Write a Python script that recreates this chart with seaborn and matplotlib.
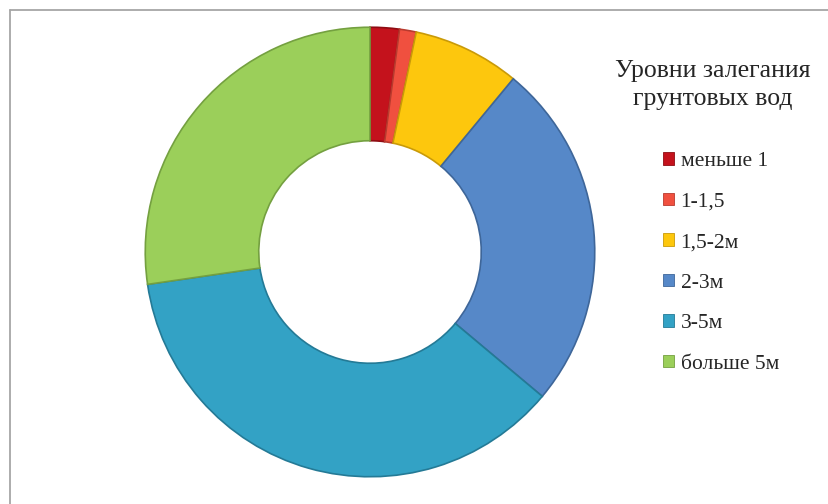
import matplotlib
matplotlib.use("Agg")
import matplotlib.pyplot as plt
from matplotlib.lines import Line2D
from matplotlib.patches import Patch
import seaborn as sns

# Groundwater depth classes and their shares (%)
categories = ["меньше 1", "1-1,5", "1,5-2м", "2-3м", "3-5м", "больше 5м"]
shares = [2.1, 1.2, 7.7, 25.1, 36.6, 27.3]
colors = ["#C4121C", "#F0503F", "#FDC70D", "#5688C8", "#33A2C5", "#9BCF5A"]
edges = ["#8E0C12", "#B83A2E", "#C99A08", "#3E6699", "#247A96", "#74A040"]
title = "Уровни залегания\nгрунтовых вод"

sns.set_theme(style="white")
plt.rcParams["font.family"] = ["Liberation Serif", "DejaVu Serif"]

W, H = 829, 504
fig = plt.figure(figsize=(W / 100, H / 100), dpi=100)
fig.patch.set_facecolor("white")

# donut centred at (370, 252) px with outer radius 227 px
cx, cy, r = 370, 252, 227
ax = fig.add_axes([(cx - r) / W, (H - cy - r) / H, 2 * r / W, 2 * r / H])
wedges, _ = ax.pie(
    shares,
    colors=colors,
    startangle=90,
    counterclock=False,
    radius=1.0,
    wedgeprops=dict(width=0.505, linewidth=1.2),
)
for w, ec in zip(wedges, edges):
    w.set_edgecolor(ec)
ax.set_xlim(-1.01, 1.01)
ax.set_ylim(-1.01, 1.01)
ax.set_aspect("equal")
ax.axis("off")

# legend title
fig.text(713 / W, 1 - 85 / H, title, ha="center", va="center",
         fontsize=18.5, color="#262626", linespacing=1.37)

handles = [Patch(facecolor=c, edgecolor=e, linewidth=0.6) for c, e in zip(colors, edges)]
leg = fig.legend(
    handles, categories,
    loc="upper left",
    bbox_to_anchor=(663 / W, 1 - 152 / H),
    frameon=False,
    fontsize=15.5,
    handlelength=0.52,
    handleheight=0.52,
    handletextpad=0.3,
    labelspacing=1.0,
    borderpad=0,
    borderaxespad=0,
)
for t in leg.get_texts():
    t.set_color("#262626")

# chart area border (top and left edges)
fig.add_artist(Line2D([10.5 / W, 1.0], [1 - 9.5 / H, 1 - 9.5 / H],
                      color="#A6A6A6", linewidth=1.3, transform=fig.transFigure))
fig.add_artist(Line2D([10.5 / W, 10.5 / W], [1 - 9.5 / H, 0.0],
                      color="#A6A6A6", linewidth=1.3, transform=fig.transFigure))

fig.savefig("out.png", dpi=100, facecolor="white")
